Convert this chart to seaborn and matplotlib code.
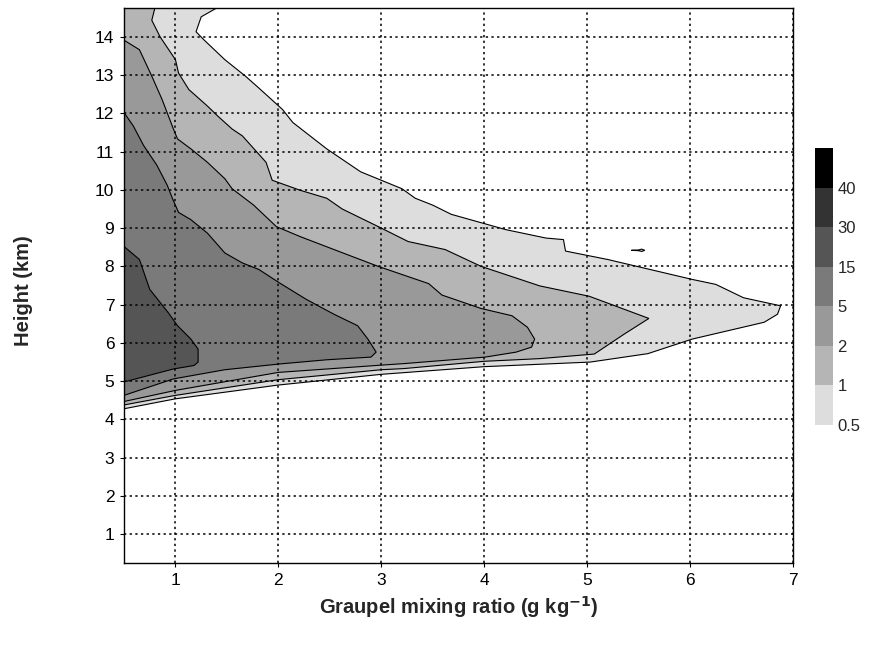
import matplotlib
matplotlib.use("Agg")
import matplotlib.pyplot as plt
import matplotlib.colors as mcolors
import matplotlib.cm as cm
import seaborn as sns
import numpy as np

# contour levels of the frequency field and their grey shades
levels = [0.5, 1, 2, 5, 15, 30, 40]
shades = ["#dddddd", "#b5b5b5", "#999999", "#7a7a7a", "#555555", "#333333", "#000000"]

# outline of each filled level:
# upper edge (left/top -> tip) and lower edge (tip -> left axis), x in g/kg, y in km
lev05_up_x = [0.5, 1.40, 1.25, 1.20, 1.28, 1.48, 1.68, 1.81, 2.04, 2.14, 2.47, 2.80, 3.00,
              3.20, 3.33, 3.50, 3.68, 4.21, 4.60, 4.77, 4.79, 5.20, 6.02, 6.25, 6.52, 6.88]
lev05_up_y = [14.75, 14.75, 14.52, 14.13, 13.91, 13.40, 12.97, 12.66, 12.10, 11.76, 11.07, 10.47, 10.25,
              10.03, 9.78, 9.60, 9.36, 8.96, 8.74, 8.70, 8.40, 8.18, 7.66, 7.53, 7.18, 6.97]
lev05_lo_x = [6.85, 6.72, 6.02, 5.59, 5.03, 4.00, 3.00, 2.00, 1.00, 0.5]
lev05_lo_y = [6.75, 6.54, 6.10, 5.72, 5.50, 5.38, 5.18, 4.90, 4.54, 4.28]

lev1_up_x = [0.5, 0.80, 0.77, 0.85, 1.00, 1.03, 1.13, 1.31, 1.41, 1.55, 1.65, 1.88, 1.94,
             2.21, 2.47, 2.62, 3.00, 3.26, 3.62, 3.97, 4.54, 5.02, 5.60]
lev1_up_y = [14.75, 14.75, 14.43, 14.00, 13.40, 13.05, 12.62, 12.19, 11.93, 11.59, 11.41, 10.72, 10.25,
             9.99, 9.78, 9.50, 9.00, 8.65, 8.44, 8.00, 7.49, 7.22, 6.64]
lev1_lo_x = [5.36, 5.07, 4.54, 4.00, 3.22, 3.00, 2.00, 1.00, 0.5]
lev1_lo_y = [6.23, 5.71, 5.59, 5.52, 5.33, 5.30, 5.04, 4.63, 4.38]

lev2_up_x = [0.5, 0.65, 0.77, 0.87, 0.98, 1.02, 1.15, 1.31, 1.48, 1.55, 1.76, 1.98, 2.21,
             2.54, 2.97, 3.46, 3.59, 3.97, 4.27, 4.42, 4.49]
lev2_up_y = [13.91, 13.66, 12.97, 12.36, 11.59, 11.33, 11.07, 10.72, 10.29, 10.03, 9.60, 9.04, 8.78,
             8.44, 8.00, 7.55, 7.25, 6.90, 6.71, 6.41, 6.10]
lev2_lo_x = [4.46, 4.31, 4.01, 3.22, 3.00, 2.00, 1.00, 0.5]
lev2_lo_y = [5.89, 5.76, 5.63, 5.46, 5.42, 5.23, 4.76, 4.47]

lev5_up_x = [0.5, 0.59, 0.69, 0.82, 0.92, 0.97, 1.03, 1.15, 1.31, 1.48, 1.65, 1.81, 2.01,
             2.27, 2.54, 2.77, 2.87, 2.95]
lev5_up_y = [12.02, 11.67, 11.16, 10.64, 10.12, 9.78, 9.41, 9.22, 8.87, 8.35, 8.09, 7.92, 7.57,
             7.14, 6.75, 6.45, 6.10, 5.76]
lev5_lo_x = [2.90, 2.47, 2.01, 1.48, 0.98, 0.5]
lev5_lo_y = [5.63, 5.56, 5.45, 5.30, 5.06, 4.63]

lev15_up_x = [0.5, 0.65, 0.75, 0.93, 1.02, 1.15, 1.22, 1.22]
lev15_up_y = [8.52, 8.18, 7.40, 6.79, 6.45, 6.10, 5.84, 5.50]
lev15_lo_x = [1.18, 0.98, 0.5]
lev15_lo_y = [5.41, 5.32, 4.98]

# small isolated 0.5 contour near 8.4 km
blob_x = [5.43, 5.50, 5.53, 5.56, 5.53, 5.50]
blob_y = [8.42, 8.43, 8.45, 8.42, 8.39, 8.41]

outlines = [
    (lev05_up_x + lev05_lo_x, lev05_up_y + lev05_lo_y),
    (lev1_up_x + lev1_lo_x, lev1_up_y + lev1_lo_y),
    (lev2_up_x + lev2_lo_x, lev2_up_y + lev2_lo_y),
    (lev5_up_x + lev5_lo_x, lev5_up_y + lev5_lo_y),
    (lev15_up_x + lev15_lo_x, lev15_up_y + lev15_lo_y),
]

sns.set_style("white")
plt.rcParams["font.family"] = ["Liberation Sans", "DejaVu Sans"]

fig = plt.figure(figsize=(8.69, 6.47), dpi=100)
ax = fig.add_axes([0.1427, 0.1298, 0.7698, 0.8578])

for i, (xs, ys) in enumerate(outlines):
    ax.fill(xs, ys, facecolor=shades[i], edgecolor="black", linewidth=0.8, zorder=1)
ax.fill(blob_x, blob_y, facecolor=shades[0], edgecolor="black", linewidth=0.8, zorder=1)

ax.set_xlim(0.5, 7)
ax.set_ylim(0.25, 14.75)
ax.set_xticks(range(1, 8))
ax.set_yticks(range(1, 15))
ax.tick_params(axis="both", direction="out", length=3, width=0.8, pad=4,
               labelsize=12.5, colors="black", left=True, bottom=True)

ax.set_axisbelow(False)
ax.grid(True, color="black", linestyle=(0, (1.5, 2.2)), linewidth=1.1)
for s in ax.spines.values():
    s.set_color("black")
    s.set_linewidth(1.0)

ax.set_xlabel("Graupel mixing ratio (g kg$^{\\mathbf{-1}}$)", fontsize=14.5, fontweight="bold")
ax.set_ylabel("Height (km)", fontsize=14.5, fontweight="bold")
ax.xaxis.set_label_coords(0.5, -0.056)
ax.yaxis.set_label_coords(-0.136, 0.49)

# colour bar with equal-sized boxes
cax = fig.add_axes([0.938, 0.3431, 0.0207, 0.428])
bounds = levels + [50]
cmap = mcolors.ListedColormap(shades)
norm = mcolors.BoundaryNorm(bounds, cmap.N)
cb = fig.colorbar(cm.ScalarMappable(norm=norm, cmap=cmap), cax=cax,
                  boundaries=bounds, ticks=levels, spacing="uniform")
cb.outline.set_visible(False)
cb.ax.minorticks_off()
cb.ax.set_yticklabels([f"{v:g}" for v in levels])
cb.ax.tick_params(length=0, labelsize=12, pad=3)

fig.savefig("out.png", dpi=100)
